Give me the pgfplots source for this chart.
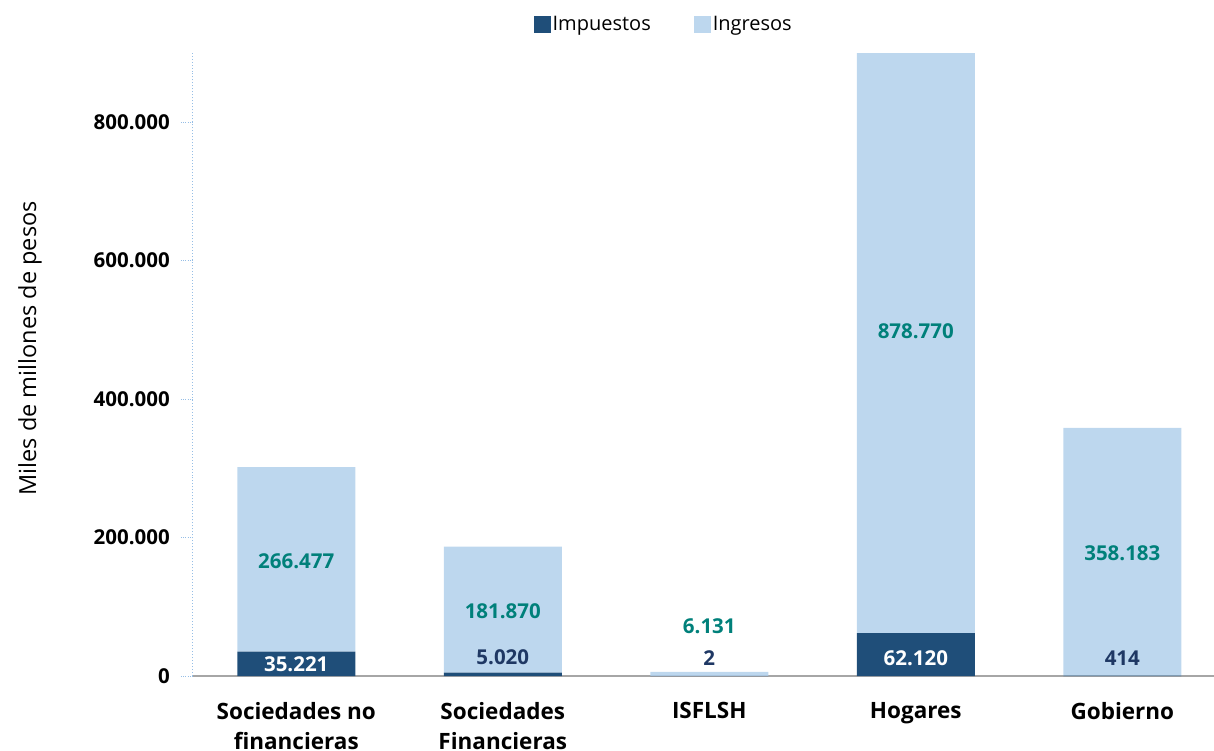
\documentclass[border=0pt]{standalone}
\usepackage{fontspec}
\setmainfont{Open Sans}
\usepackage{pgfplots}
\pgfplotsset{compat=1.18}
\definecolor{impuestos}{RGB}{31,78,121}
\definecolor{ingresos}{RGB}{189,215,238}
\definecolor{tealtxt}{RGB}{0,128,122}
\definecolor{navytxt}{RGB}{31,56,100}
\definecolor{axblue}{RGB}{150,190,230}
\begin{document}
\begin{tikzpicture}
\begin{axis}[
  at={(0bp,0bp)}, anchor=south west,
  scale only axis, width=1021bp, height=623bp,
  ybar stacked, bar width=118bp,
  xmin=-0.5, xmax=4.444, ymin=0, ymax=900000,
  scaled y ticks=false,
  xtick={0,1,2,3,4},
  xticklabels={{Sociedades no\\financieras},{Sociedades\\Financieras},{ISFLSH},{Hogares},{Gobierno}},
  xticklabel style={font=\fontsize{22.5bp}{30bp}\selectfont\bfseries, align=center, anchor=north, inner sep=0pt, yshift=-14bp},
  xtick style={draw=none},
  ytick={0,200000,400000,600000,800000},
  yticklabels={0,200.000,400.000,600.000,800.000},
  yticklabel style={font=\fontsize{20.5bp}{24bp}\selectfont\bfseries, anchor=east, inner sep=0pt, xshift=-11bp},
  tick align=outside, major tick length=12bp,
  ytick style={draw=axblue, dotted, line width=1bp},
  axis x line*=bottom, axis y line*=left,
  x axis line style={draw=black!35, line width=1.6bp, -},
  y axis line style={draw=axblue, dotted, line width=1bp, -},
  ylabel={Miles de millones de pesos},
  ylabel style={font=\fontsize{23.5bp}{28bp}\selectfont, at={(axis description cs:0,0.526)}, anchor=center, yshift=163bp},
  legend columns=2,
  legend style={draw=none, font=\fontsize{20bp}{24bp}\selectfont, at={(axis description cs:0.461,1.0465)}, anchor=center, inner sep=0pt, nodes={inner sep=1.5bp}},
  legend image code/.code={\draw[#1,draw=none] (0bp,-8.5bp) rectangle (17bp,8.5bp);},
]
\addplot[fill=impuestos, draw=none] coordinates {(0,35221) (1,5020) (2,2) (3,62120) (4,414)};
\addplot[fill=ingresos, draw=none] coordinates {(0,266477) (1,181870) (2,6131) (3,878770) (4,358183)};
\legend{Impuestos\rule{42bp}{0pt}, Ingresos}
\coordinate (a1) at (axis cs:0,17000);
\coordinate (b1) at (axis cs:0,166000);
\coordinate (a2) at (axis cs:1,27400);
\coordinate (b2) at (axis cs:1,93900);
\coordinate (a3) at (axis cs:2,26000);
\coordinate (b3) at (axis cs:2,72200);
\coordinate (a4) at (axis cs:3,26000);
\coordinate (b4) at (axis cs:3,498400);
\coordinate (a5) at (axis cs:4,26000);
\coordinate (b5) at (axis cs:4,177700);
\end{axis}
\begin{scope}[every node/.style={font=\fontsize{20.5bp}{24bp}\selectfont\bfseries}]
\node[text=white] at (a1) {35.221};
\node[text=tealtxt] at (b1) {266.477};
\node[text=navytxt] at (a2) {5.020};
\node[text=tealtxt] at (b2) {181.870};
\node[text=navytxt] at (a3) {2};
\node[text=tealtxt] at (b3) {6.131};
\node[text=white] at (a4) {62.120};
\node[text=tealtxt] at (b4) {878.770};
\node[text=navytxt] at (a5) {414};
\node[text=tealtxt] at (b5) {358.183};
\end{scope}
\pgfresetboundingbox
\useasboundingbox (-193bp,-75bp) rectangle (1021bp,676bp);
\end{tikzpicture}
\end{document}
